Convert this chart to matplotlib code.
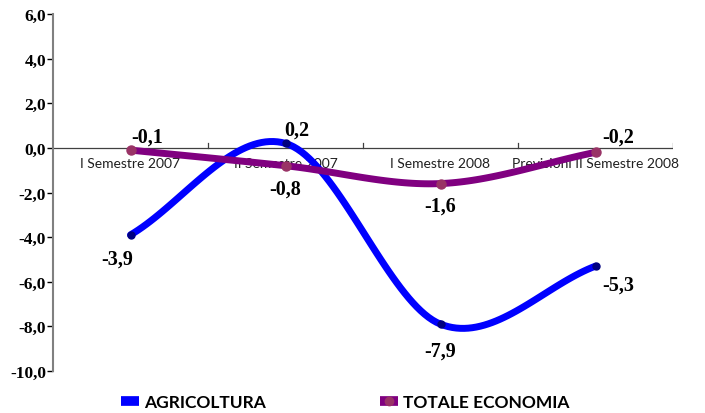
import matplotlib.pyplot as plt
from matplotlib.lines import Line2D
import numpy as np

categorie = ['I Semestre 2007', 'II Semestre 2007', 'I Semestre 2008',
             'Previsioni II Semestre 2008']
agricoltura = [-3.9, 0.2, -7.9, -5.3]
totale = [-0.1, -0.8, -1.6, -0.2]
yticks = [6, 4, 2, 0, -2, -4, -6, -8, -10]


def smooth(x, y, n=40):
    # curva tipo Excel (Catmull-Rom)
    x = np.asarray(x, float); y = np.asarray(y, float)
    px = np.concatenate([[2*x[0]-x[1]], x, [2*x[-1]-x[-2]]])
    py = np.concatenate([[2*y[0]-y[1]], y, [2*y[-1]-y[-2]]])
    xs, ys = [], []
    t = np.linspace(0, 1, n)
    for i in range(1, len(px)-2):
        for p, out in ((px, xs), (py, ys)):
            p0, p1, p2, p3 = p[i-1], p[i], p[i+1], p[i+2]
            out.extend(0.5*((2*p1) + (-p0+p2)*t + (2*p0-5*p1+4*p2-p3)*t**2
                            + (-p0+3*p1-3*p2+p3)*t**3))
    return np.array(xs), np.array(ys)


x = np.arange(len(categorie)) + 0.5
fig = plt.figure(figsize=(7.05, 4.14), dpi=100)
ax = fig.add_axes([53/705, 1-372/414, 620/705, 357/414])

xa, ya = smooth(x, agricoltura)
xt, yt = smooth(x, totale)
ax.plot(xa, ya, color='#0000ff', lw=5, solid_capstyle='round', zorder=3)
ax.plot(x, agricoltura, 'o', color='#000080', ms=5, zorder=4)
ax.plot(xt, yt, color='#800080', lw=5, solid_capstyle='round', zorder=3)
ax.plot(x, totale, 'o', color='#993366', ms=6.5, zorder=4)

fmt = lambda v: ('%.1f' % v).replace('.', ',')
lab_kw = dict(fontsize=14.5, fontweight='bold', family='Liberation Serif',
              ha='center', va='center', zorder=5)
off_a = [(-13, -24), (11, 14), (0, -26), (23, -18)]
off_t = [(17, 14), (0, -23), (0, -22), (23, 16)]
for xi, v, o in zip(x, agricoltura, off_a):
    ax.annotate(fmt(v), (xi, v), xytext=o, textcoords='offset pixels', **lab_kw)
for xi, v, o in zip(x, totale, off_t):
    ax.annotate(fmt(v), (xi, v), xytext=o, textcoords='offset pixels', **lab_kw)

ax.set_xlim(0, 4)
ax.set_ylim(-10, 6)
ax.set_yticks(yticks)
ax.set_yticklabels([fmt(v) for v in yticks], fontsize=12.5, fontweight='bold',
                   family='Liberation Serif')
ax.set_xticks([])
for s in ['top', 'right', 'bottom']:
    ax.spines[s].set_visible(False)
ax.spines['left'].set_color('#808080')
ax.spines['left'].set_linewidth(1.5)
ax.tick_params(axis='y', length=4, width=1, direction='out', pad=1)
ax.axhline(0, color='#404040', lw=0.9, zorder=1)
for xb in range(1, 5):
    ax.plot([xb, xb], [0, 0.2], color='#404040', lw=0.9, zorder=1)
for xi, c in zip(x, categorie):
    ax.text(xi, -0.42, c, ha='center', va='top', fontsize=10,
            family='Lato', color='#202020', zorder=2)

h1 = Line2D([], [], color='#0000ff', lw=7, solid_capstyle='butt')
h2 = Line2D([], [], color='#800080', lw=7, solid_capstyle='butt',
            marker='o', ms=6, markerfacecolor='#993366', markeredgecolor='#993366')
fig.legend([h1, h2], ['AGRICOLTURA', 'TOTALE ECONOMIA'], loc='lower center',
           bbox_to_anchor=(0.49, -0.03), ncol=2, frameon=False,
           columnspacing=6.6, handlelength=1.0, handletextpad=0.3,
           prop={'family': 'Lato', 'weight': 'bold', 'size': 12.5})
plt.savefig('out.png', dpi=100)
